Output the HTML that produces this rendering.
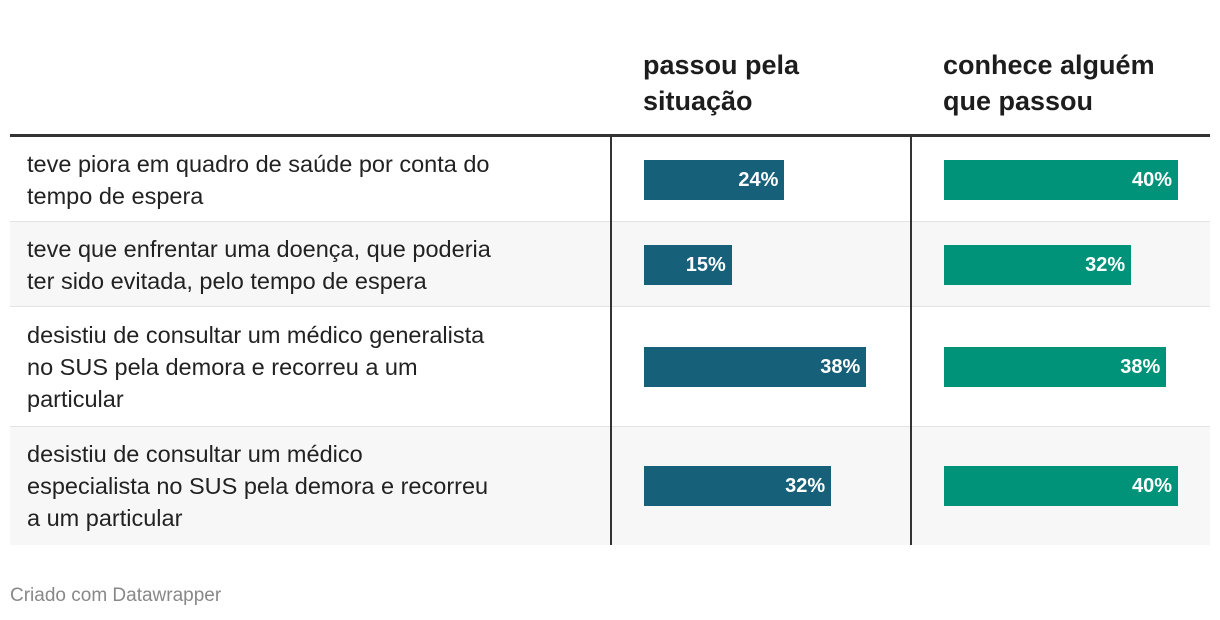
<!DOCTYPE html>
<html><head><meta charset="utf-8"><style>
body{margin:0;width:1220px;height:620px;background:#fff;font-family:"Liberation Sans",Arial,sans-serif;position:relative;overflow:hidden}
.a{position:absolute}
.h{font-weight:bold;font-size:27px;line-height:36px;color:#1d1d1d}
.lbl{font-size:23.5px;line-height:32px;color:#222;left:27px;width:570px}
.bar{position:absolute;height:40px;color:#fff;font-weight:bold;font-size:20px;line-height:40px;text-align:right;box-sizing:border-box;padding-right:6px}
</style></head><body>
<div class="a h" style="left:643px;top:47px">passou pela<br>situação</div>
<div class="a h" style="left:943px;top:47px">conhece alguém<br>que passou</div>
<div id="rows"></div>
<div class="a" style="left:10px;top:134px;width:1200px;height:3px;background:#333"></div>
<div class="a" style="left:610px;top:137px;width:2px;height:408px;background:#333"></div>
<div class="a" style="left:910px;top:137px;width:2px;height:408px;background:#333"></div>
<div class="a" style="left:10px;top:585px;font-size:19px;color:#888">Criado com Datawrapper</div>
<script>
const labels=["teve piora em quadro de saúde por conta do<br>tempo de espera","teve que enfrentar uma doença, que poderia<br>ter sido evitada, pelo tempo de espera","desistiu de consultar um médico generalista<br>no SUS pela demora e recorreu a um<br>particular","desistiu de consultar um médico<br>especialista no SUS pela demora e recorreu<br>a um particular"];
const passou=[24,15,38,32];
const conhece=[40,32,38,40];
const rowTops=[137,222,307,427],rowBottoms=[222,307,427,545];
const px=v=>v*5.85;
const root=document.getElementById('rows');
labels.forEach((l,i)=>{
  const t=rowTops[i],h=rowBottoms[i]-t,c=t+h/2;
  const r=document.createElement('div');r.className='a';
  
  
  r.style.cssText=`left:10px;top:${t}px;width:1200px;height:${h}px;background:${i%2?'#f7f7f7':'#fff'};border-bottom:${i<3?'1px solid #e3e3e3':'none'};box-sizing:border-box`;
  root.appendChild(r);
  const lines=l.split('<br>').length;
  const tx=document.createElement('div');tx.className='a lbl';
  
  
  tx.innerHTML=l;tx.style.top=(c-lines*16)+'px';root.appendChild(tx);
  [[passou,644,'#17607a'],[conhece,944,'#00937a']].forEach(([arr,x0,col],j)=>{
    const b=document.createElement('div');b.className='bar';
    
    
    b.style.left=x0+'px';b.style.top=(c-20)+'px';b.style.width=px(arr[i])+'px';b.style.background=col;
    b.textContent=arr[i]+'%';root.appendChild(b);
  });
});
</script>
</body></html>
